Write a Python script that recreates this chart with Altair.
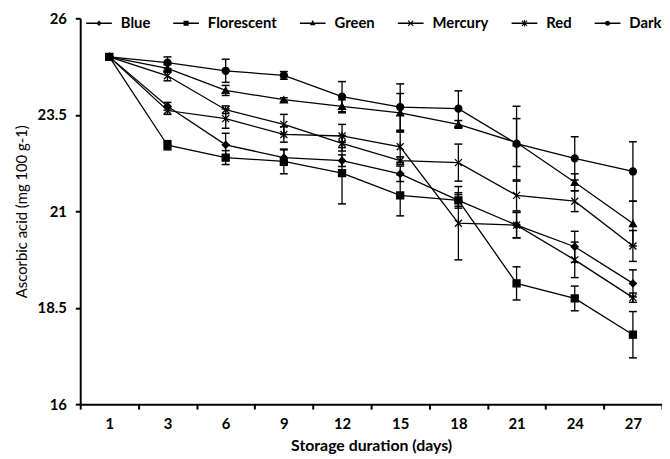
import altair as alt
import pandas as pd

days = ["1", "3", "6", "9", "12", "15", "18", "21", "24", "27"]
series_names = ["Blue", "Florescent", "Green", "Mercury", "Red", "Dark"]

blue = [25.0, 23.72, 22.72, 22.39, 22.31, 21.97, 21.28, 20.64, 20.08, 19.13]
florescent = [25.0, 22.71, 22.39, 22.29, 21.99, 21.41, 21.28, 19.13, 18.74, 17.80]
green = [25.0, 24.70, 24.13, 23.89, 23.72, 23.55, 23.25, 22.78, 21.75, 20.68]
mercury = [25.0, 24.51, 23.63, 23.25, 22.76, 22.31, 22.26, 21.41, 21.26, 20.10]
red = [25.0, 23.61, 23.40, 22.99, 22.95, 22.67, 20.69, 20.64, 19.74, 18.76]
dark = [25.0, 24.85, 24.64, 24.52, 23.97, 23.70, 23.66, 22.75, 22.37, 22.03]

blue_err = [0, 0.10, 0.30, 0.20, 0.15, 0.20, 0.15, 0.33, 0.40, 0.35]
florescent_err = [0, 0.12, 0.18, 0.32, 0.80, 0.53, 0.20, 0.43, 0.32, 0.60]
green_err = [0, 0.10, 0.13, 0.05, 0.17, 0.50, 0.10, 0.62, 0.22, 0.58]
mercury_err = [0, 0.13, 0.10, 0.26, 0.20, 0.10, 0.48, 0.40, 0.27, 0.40]
red_err = [0, 0.10, 0.25, 0.20, 0.30, 0.40, 0.95, 0.33, 0.46, 0.12]
dark_err = [0, 0.15, 0.30, 0.10, 0.39, 0.60, 0.46, 0.97, 0.56, 0.77]

values = [blue, florescent, green, mercury, red, dark]
errors = [blue_err, florescent_err, green_err, mercury_err, red_err, dark_err]

rows = []
for name, vals, errs in zip(series_names, values, errors):
    for d, v, e in zip(days, vals, errs):
        rows.append({"series": name, "day": d, "value": v, "low": v - e, "high": v + e})
df = pd.DataFrame(rows)

plot_shapes = [
    "diamond",
    "square",
    "triangle-up",
    "M-1,-1L1,1M-1,1L1,-1",
    "M-1,-1L1,1M-1,1L1,-1M0,-1.2V1.2",
    "circle",
]

# legend glyphs: a short line with the marker in its middle (fill-only outlines)
LINE = "M-1,-0.05H1V0.05H-1Z"
X1 = "M-0.17,-0.23L0.23,0.17L0.17,0.23L-0.23,-0.17Z"
X2 = "M-0.23,0.17L0.17,-0.23L0.23,-0.17L-0.17,0.23Z"
VBAR = "M-0.04,-0.25H0.04V0.25H-0.04Z"
legend_shapes = [
    LINE + "M0,-0.22L0.22,0L0,0.22L-0.22,0Z",
    LINE + "M-0.2,-0.2H0.2V0.2H-0.2Z",
    LINE + "M0,-0.25L0.22,0.15H-0.22Z",
    LINE + X1 + X2,
    LINE + X1 + X2 + VBAR,
    LINE + "M0.2,0A0.2,0.2,0,1,1,-0.2,0A0.2,0.2,0,1,1,0.2,0Z",
]

FONT = "Lato"

x_enc = alt.X(
    "day:N",
    sort=days,
    scale=alt.Scale(type="band", paddingInner=0, paddingOuter=0),
    axis=alt.Axis(
        title="Storage duration (days)",
        labelAngle=0,
        tickBand="extent",
        labelPadding=8,
        titlePadding=6,
    ),
)
y_scale = alt.Scale(domain=[16, 26], nice=False, zero=False)
y_enc = alt.Y(
    "value:Q",
    scale=y_scale,
    axis=alt.Axis(
        title="Ascorbic acid (mg 100 g-1)",
        values=[16, 18.5, 21, 23.5, 26],
        format=".3~g",
        labelPadding=9,
        titlePadding=8,
        titleFontWeight="normal",
        titleFontSize=15,
    ),
)

base = alt.Chart(df)

lines = base.mark_line(color="black", strokeWidth=1.3).encode(
    x=x_enc, y=y_enc, detail="series:N"
)

err_rules = base.mark_rule(color="black", strokeWidth=1.3, opacity=1).encode(
    x=x_enc, y=alt.Y("low:Q", scale=y_scale), y2="high:Q"
)
cap_low = base.mark_tick(color="black", size=8, thickness=1.5, opacity=1).encode(
    x=x_enc, y=alt.Y("low:Q", scale=y_scale)
)
cap_high = base.mark_tick(color="black", size=8, thickness=1.5, opacity=1).encode(
    x=x_enc, y=alt.Y("high:Q", scale=y_scale)
)

points = base.mark_point(
    filled=True, fill="black", stroke="black", strokeWidth=1.3, opacity=1, size=50
).encode(
    x=x_enc,
    y=y_enc,
    shape=alt.Shape(
        "series:N",
        sort=series_names,
        scale=alt.Scale(domain=series_names, range=plot_shapes),
        legend=None,
    ),
)

legend_layer = (
    base.transform_filter(alt.datum.day == "1")
    .mark_point(filled=True, fill="black", opacity=1, size=676, clip=True)
    .encode(
        x=x_enc,
        y=alt.value(-200),
        shape=alt.Shape(
            "series:N",
            sort=series_names,
            scale=alt.Scale(domain=series_names, range=legend_shapes),
            legend=alt.Legend(
                title=None,
                orient="none",
                direction="horizontal",
                legendX=5,
                legendY=-9,
                symbolSize=676,
                symbolFillColor="black",
                symbolOpacity=1,
                labelFont=FONT,
                labelFontSize=15,
                labelFontWeight="bold",
                labelColor="black",
                labelOffset=8,
                columnPadding=20,
            ),
        ),
    )
)

chart = (
    alt.layer(lines, err_rules, cap_low, cap_high, points, legend_layer)
    .resolve_scale(shape="independent")
    .properties(
        width=588,
        height=390,
        autosize=alt.AutoSizeParams(type="none"),
        padding={"left": 73, "top": 8, "right": 0, "bottom": 51},
    )
    .configure_view(stroke=None)
    .configure_axis(
        grid=False,
        domainColor="black",
        domainWidth=2,
        tickColor="black",
        tickWidth=2,
        tickSize=5,
        labelFont=FONT,
        labelFontSize=15,
        labelFontWeight="bold",
        labelColor="black",
        titleFont=FONT,
        titleFontSize=16,
        titleFontWeight="bold",
        titleColor="black",
    )
)

chart.save("out.html", embed_options={"renderer": "svg", "actions": False})
